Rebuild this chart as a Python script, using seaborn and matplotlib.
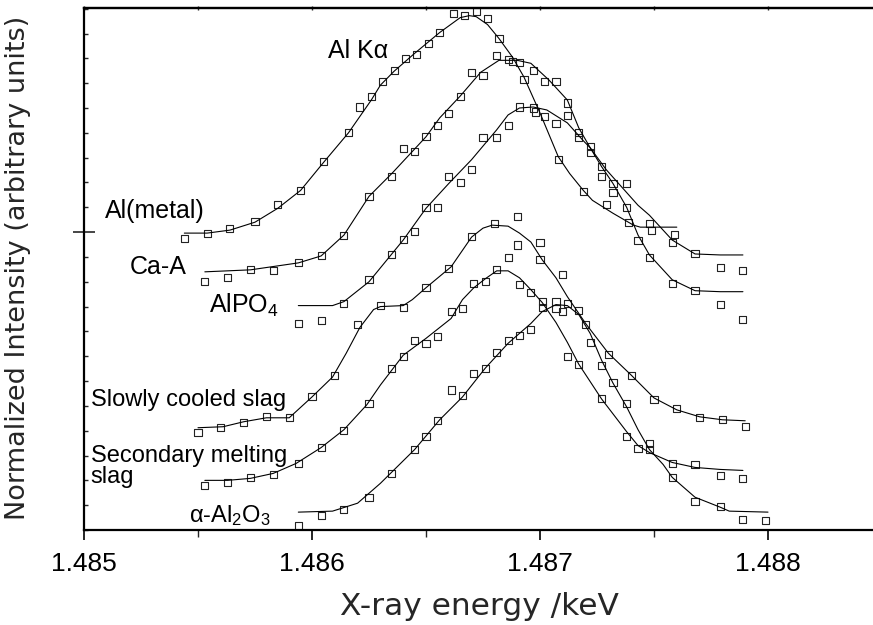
import matplotlib
matplotlib.use("Agg")
import matplotlib.pyplot as plt
from matplotlib.ticker import MultipleLocator, FixedLocator, NullFormatter
import seaborn as sns

# ---------------- data ----------------
x_ticks = [1.485, 1.486, 1.487, 1.488]
x_tick_labels = ["1.485", "1.486", "1.487", "1.488"]

# Al(metal)
al_metal_x = [1.48544, 1.48554, 1.48564, 1.48575, 1.48585, 1.48595, 1.48605, 1.48616, 1.48621, 1.48626,
              1.48631, 1.48636, 1.48641, 1.48646, 1.48651, 1.48656, 1.48662, 1.48667, 1.48672, 1.48677,
              1.48682, 1.48688, 1.48693, 1.48708, 1.48719, 1.48729, 1.48739, 1.48749, 1.48759]
al_metal_y = [2.94, 2.99, 3.04, 3.11, 3.28, 3.42, 3.71, 4.00, 4.26, 4.37,
              4.52, 4.63, 4.75, 4.79, 4.90, 5.01, 5.20, 5.18, 5.22, 5.15,
              4.95, 4.72, 4.54, 3.73, 3.41, 3.28, 3.10, 3.02, 2.98]
al_metal_fit_x = [1.48544, 1.48554, 1.48564, 1.48575, 1.48585, 1.48595, 1.48605, 1.48616, 1.48626, 1.48630,
                  1.48636, 1.48645, 1.48656, 1.48665, 1.48669, 1.48672, 1.48677, 1.48682, 1.48688, 1.48693,
                  1.48700, 1.48708, 1.48713, 1.48719, 1.48723, 1.48732, 1.48741, 1.48744, 1.48760]
al_metal_fit_y = [2.99, 2.99, 3.02, 3.10, 3.24, 3.42, 3.70, 4.00, 4.33, 4.48,
                  4.62, 4.80, 5.01, 5.16, 5.18, 5.17, 5.09, 4.95, 4.76, 4.56,
                  4.20, 3.76, 3.59, 3.42, 3.32, 3.19, 3.07, 3.05, 3.05]

# Ca-A
ca_a_x = [1.48553, 1.48563, 1.48573, 1.48583, 1.48594, 1.48604, 1.48614, 1.48625, 1.48635, 1.48640,
          1.48645, 1.48650, 1.48655, 1.48660, 1.48665, 1.48670, 1.48675, 1.48681, 1.48686, 1.48691,
          1.48697, 1.48702, 1.48707, 1.48712, 1.48717, 1.48722, 1.48727, 1.48732, 1.48738, 1.48743,
          1.48748, 1.48758, 1.48768, 1.48779, 1.48789]
ca_a_y = [2.50, 2.54, 2.62, 2.61, 2.69, 2.76, 2.97, 3.36, 3.56, 3.84,
          3.81, 3.96, 4.07, 4.19, 4.37, 4.61, 4.58, 4.78, 4.74, 4.71,
          4.63, 4.52, 4.52, 4.30, 4.00, 3.86, 3.66, 3.49, 3.25, 2.92,
          2.74, 2.48, 2.41, 2.27, 2.12]
ca_a_fit_x = [1.48553, 1.48573, 1.48594, 1.48604, 1.48614, 1.48625, 1.48635, 1.48650, 1.48656, 1.48665,
              1.48674, 1.48682, 1.48690, 1.48696, 1.48704, 1.48712, 1.48717, 1.48722, 1.48727, 1.48732,
              1.48738, 1.48743, 1.48748, 1.48758, 1.48768, 1.48779, 1.48789]
ca_a_fit_y = [2.60, 2.62, 2.69, 2.76, 2.97, 3.36, 3.59, 3.96, 4.15, 4.37,
              4.61, 4.73, 4.73, 4.70, 4.53, 4.33, 4.05, 3.85, 3.66, 3.49,
              3.25, 2.97, 2.77, 2.52, 2.41, 2.40, 2.40]

# AlPO4
alpo4_x = [1.48594, 1.48604, 1.48614, 1.48625, 1.48635, 1.48640, 1.48645, 1.48650, 1.48655, 1.48660,
           1.48665, 1.48670, 1.48675, 1.48681, 1.48686, 1.48691, 1.48697, 1.48698, 1.48702, 1.48707,
           1.48712, 1.48717, 1.48722, 1.48727, 1.48732, 1.48738, 1.48748, 1.48758, 1.48768, 1.48779,
           1.48789]
alpo4_y = [2.08, 2.11, 2.28, 2.52, 2.77, 2.93, 3.01, 3.25, 3.25, 3.56,
           3.50, 3.63, 3.95, 3.95, 4.07, 4.26, 4.25, 4.21, 4.16, 4.09,
           4.17, 3.95, 3.80, 3.56, 3.40, 3.49, 3.09, 2.90, 2.78, 2.64,
           2.61]
alpo4_fit_x = [1.48594, 1.48609, 1.48614, 1.48625, 1.48640, 1.48650, 1.48660, 1.48670, 1.48681, 1.48686,
               1.48691, 1.48697, 1.48703, 1.48712, 1.48719, 1.48722, 1.48729, 1.48736, 1.48743, 1.48748,
               1.48758, 1.48768, 1.48779, 1.48789]
alpo4_fit_y = [2.26, 2.26, 2.30, 2.50, 2.92, 3.24, 3.49, 3.73, 4.03, 4.18,
               4.25, 4.26, 4.23, 4.10, 3.92, 3.85, 3.63, 3.45, 3.27, 3.17,
               2.92, 2.78, 2.77, 2.77]

# Slowly cooled slag
scs_x = [1.48550, 1.48560, 1.48570, 1.48580, 1.48590, 1.48600, 1.48610, 1.48620, 1.48630, 1.48640,
         1.48650, 1.48660, 1.48670, 1.48680, 1.48690, 1.48690, 1.48700, 1.48700, 1.48710, 1.48720,
         1.48730, 1.48740, 1.48750, 1.48760, 1.48770, 1.48780, 1.48790]
scs_y = [0.98, 1.03, 1.08, 1.14, 1.13, 1.34, 1.56, 2.07, 2.26, 2.24,
         2.44, 2.63, 2.96, 3.09, 3.16, 2.87, 2.90, 2.72, 2.57, 2.07,
         1.77, 1.56, 1.31, 1.22, 1.13, 1.11, 1.04]
scs_fit_x = [1.48550, 1.48561, 1.48570, 1.48580, 1.48590, 1.48600, 1.48609, 1.48615, 1.48621, 1.48627,
             1.48630, 1.48640, 1.48644, 1.48650, 1.48661, 1.48670, 1.48675, 1.48679, 1.48686, 1.48691,
             1.48696, 1.48701, 1.48707, 1.48712, 1.48720, 1.48730, 1.48740, 1.48750, 1.48760, 1.48770,
             1.48780, 1.48790]
scs_fit_y = [1.03, 1.04, 1.09, 1.13, 1.13, 1.34, 1.54, 1.78, 2.04, 2.22,
             2.25, 2.26, 2.32, 2.44, 2.65, 2.95, 3.04, 3.07, 3.06, 2.99,
             2.90, 2.72, 2.54, 2.35, 2.08, 1.78, 1.56, 1.33, 1.21, 1.14,
             1.11, 1.10]

# Secondary melting slag
sms_x = [1.48553, 1.48563, 1.48573, 1.48583, 1.48594, 1.48604, 1.48614, 1.48625, 1.48635, 1.48640,
         1.48645, 1.48650, 1.48655, 1.48661, 1.48666, 1.48671, 1.48676, 1.48681, 1.48686, 1.48691,
         1.48696, 1.48701, 1.48707, 1.48712, 1.48717, 1.48727, 1.48738, 1.48743, 1.48748, 1.48758,
         1.48768, 1.48779, 1.48789]
sms_y = [0.45, 0.48, 0.53, 0.56, 0.67, 0.83, 1.00, 1.27, 1.63, 1.75,
         1.91, 1.88, 1.95, 2.20, 2.23, 2.48, 2.50, 2.62, 2.74, 2.47,
         2.39, 2.30, 2.23, 1.75, 1.67, 1.32, 0.94, 0.82, 0.87, 0.67,
         0.66, 0.55, 0.52]
sms_fit_x = [1.48553, 1.48563, 1.48573, 1.48583, 1.48593, 1.48604, 1.48614, 1.48624, 1.48630, 1.48640,
             1.48650, 1.48661, 1.48666, 1.48671, 1.48676, 1.48681, 1.48686, 1.48691, 1.48696, 1.48701,
             1.48707, 1.48712, 1.48717, 1.48727, 1.48738, 1.48743, 1.48748, 1.48758, 1.48768, 1.48779,
             1.48789]
sms_fit_y = [0.50, 0.50, 0.52, 0.57, 0.67, 0.83, 1.01, 1.26, 1.46, 1.76,
             1.93, 2.13, 2.32, 2.44, 2.53, 2.61, 2.61, 2.54, 2.42, 2.29,
             2.09, 1.89, 1.67, 1.32, 0.99, 0.85, 0.78, 0.68, 0.63, 0.61,
             0.60]

# alpha-Al2O3
alumina_x = [1.48594, 1.48604, 1.48614, 1.48625, 1.48635, 1.48645, 1.48650, 1.48655, 1.48661, 1.48666,
             1.48671, 1.48676, 1.48681, 1.48686, 1.48691, 1.48696, 1.48701, 1.48707, 1.48710, 1.48712,
             1.48717, 1.48722, 1.48727, 1.48732, 1.48738, 1.48748, 1.48758, 1.48768, 1.48779, 1.48789,
             1.48799]
alumina_y = [0.04, 0.15, 0.21, 0.33, 0.57, 0.81, 0.94, 1.10, 1.41, 1.35,
             1.58, 1.63, 1.79, 1.91, 1.96, 2.02, 2.24, 2.30, 2.20, 2.28,
             2.21, 1.89, 1.66, 1.49, 1.27, 0.81, 0.53, 0.29, 0.24, 0.11,
             0.10]
alumina_fit_x = [1.48594, 1.48609, 1.48620, 1.48630, 1.48645, 1.48656, 1.48666, 1.48676, 1.48686, 1.48696,
                 1.48701, 1.48707, 1.48712, 1.48717, 1.48722, 1.48727, 1.48732, 1.48738, 1.48743, 1.48748,
                 1.48754, 1.48758, 1.48768, 1.48779, 1.48783, 1.48800]
alumina_fit_y = [0.18, 0.19, 0.27, 0.47, 0.81, 1.11, 1.34, 1.63, 1.88, 2.08,
                 2.20, 2.27, 2.26, 2.17, 1.98, 1.71, 1.48, 1.24, 1.01, 0.81,
                 0.66, 0.53, 0.33, 0.23, 0.19, 0.18]

series = [
    (al_metal_x, al_metal_y, al_metal_fit_x, al_metal_fit_y),
    (ca_a_x, ca_a_y, ca_a_fit_x, ca_a_fit_y),
    (alpo4_x, alpo4_y, alpo4_fit_x, alpo4_fit_y),
    (scs_x, scs_y, scs_fit_x, scs_fit_y),
    (sms_x, sms_y, sms_fit_x, sms_fit_y),
    (alumina_x, alumina_y, alumina_fit_x, alumina_fit_y),
]

labels = ["Al K\u03b1", "Al(metal)", "Ca-A", "AlPO$_4$",
          "Slowly cooled slag", "Secondary melting", "slag", "\u03b1-Al$_2$O$_3$"]
label_x = [1.48607, 1.48509, 1.48520, 1.48555, 1.48503, 1.48503, 1.48503, 1.48546]
label_y = [4.75, 3.14, 2.58, 2.19, 1.25, 0.68, 0.47, 0.08]
label_size = [18, 18, 18, 18, 17, 17, 17, 17]

# ---------------- styling ----------------
sns.set_style("ticks")
plt.rcParams["font.family"] = ["Liberation Sans", "DejaVu Sans"]
plt.rcParams["mathtext.default"] = "regular"

fig = plt.figure(figsize=(8.73, 6.25), dpi=100)
ax = fig.add_axes([84 / 873, 1 - 530 / 625, 798 / 873, 522 / 625])

for sx, sy, fx, fy in series:
    sns.lineplot(x=fx, y=fy, ax=ax, color="black", linewidth=0.8,
                 estimator=None, sort=False)
    sns.scatterplot(x=sx, y=sy, ax=ax, marker="s", s=26,
                    facecolor="none", edgecolor="#222222", linewidth=0.8)

for t, lx, ly, fs in zip(labels, label_x, label_y, label_size):
    ax.text(lx, ly, t, fontsize=fs, ha="left", va="baseline", color="black")

ax.set_xlim(1.485, 1.4885)
ax.set_ylim(0, 5.257)

ax.set_xticks(x_ticks)
ax.set_xticklabels(x_tick_labels)
ax.xaxis.set_minor_locator(MultipleLocator(0.0005))
ax.yaxis.set_major_locator(FixedLocator([3.0]))
ax.yaxis.set_minor_locator(MultipleLocator(0.25))
ax.yaxis.set_major_formatter(NullFormatter())

ax.tick_params(axis="x", which="major", direction="out", length=7, width=1.2,
               labelsize=19, pad=9, colors="black")
ax.tick_params(axis="x", which="minor", direction="out", length=5, width=1.0)
ax.tick_params(axis="y", which="major", direction="inout", length=16, width=1.2, left=True)
ax.tick_params(axis="y", which="minor", direction="in", length=3, width=1.0, left=True)

top = ax.secondary_xaxis("top")
top.set_xticks(x_ticks)
top.xaxis.set_minor_locator(MultipleLocator(0.0005))
top.tick_params(axis="x", which="both", direction="inout", length=3, width=1.0,
                labeltop=False)
top.spines["top"].set_linewidth(1.6)

for sp in ["left", "bottom", "top", "right"]:
    ax.spines[sp].set_linewidth(1.6)
    ax.spines[sp].set_color("black")

ax.set_xlabel("X-ray energy /keV", fontsize=22.5, family="DejaVu Sans")
ax.xaxis.set_label_coords(0.495, -0.118)
ax.set_ylabel("Normalized Intensity (arbitrary units)", fontsize=19.5, family="DejaVu Sans")
ax.yaxis.set_label_coords(-0.066, 0.502)

fig.savefig("out.png", dpi=100)
